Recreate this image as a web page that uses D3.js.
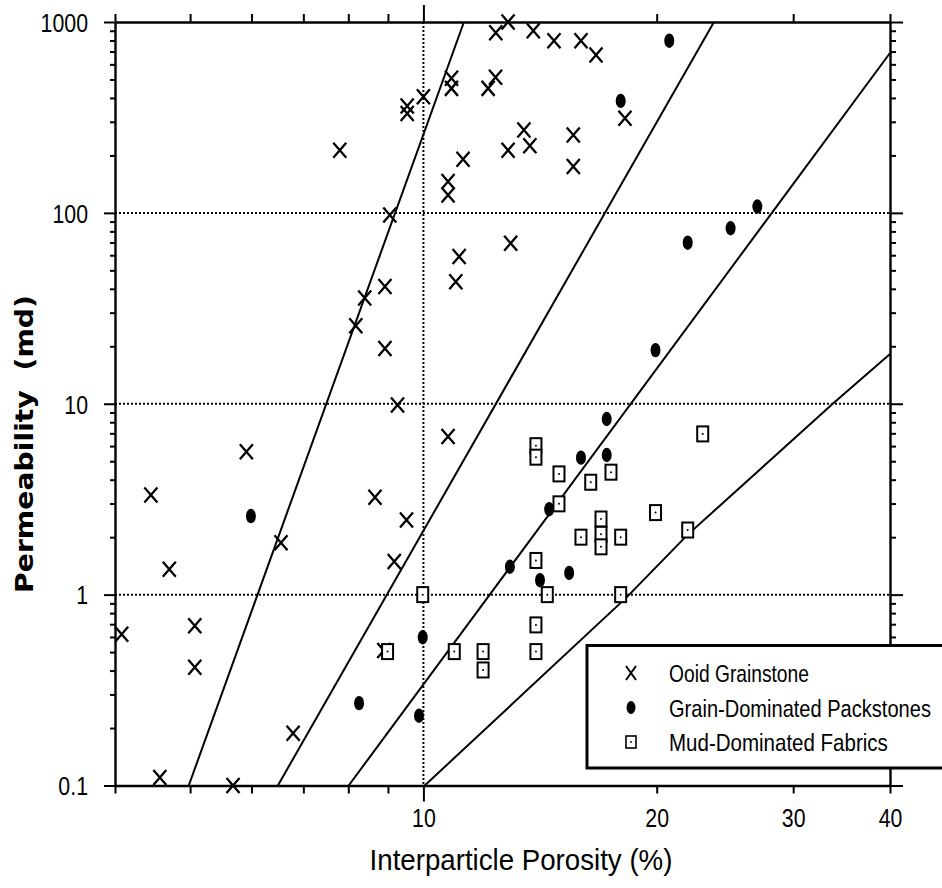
<!DOCTYPE html>
<html>
<head>
<meta charset="utf-8">
<script src="https://cdn.jsdelivr.net/npm/d3@7"></script>
<style>
body { margin: 0; background: #fff; }
text { font-family: "Liberation Sans", Arial, sans-serif; fill: #000; }
</style>
</head>
<body>
<svg id="chart" width="942" height="888"></svg>
<script>
// interparticle porosity (%) and permeability (md)

var ooidPor  = [4.08, 4.45, 4.70, 5.07, 5.07, 4.57, 5.68, 5.91, 6.55, 6.79, 7.80, 9.53, 9.53, 10.0,
                10.87, 10.87, 12.39, 12.12, 12.86, 12.40, 13.86, 14.74, 15.97, 16.70, 18.20, 13.48,
                13.72, 12.86, 15.61, 15.61, 11.25, 10.76, 10.76, 9.05, 12.96, 11.12, 11.01, 8.92,
                8.40, 8.18, 8.92, 9.26, 10.76, 8.66, 9.51, 9.17, 8.89];
var ooidPerm = [0.62, 3.33, 1.36, 0.686, 0.417, 0.110, 0.1, 5.61, 1.87, 0.188, 213, 363, 332, 406,
                507, 449, 513, 449, 1000, 879, 900, 798, 798, 672, 313, 272,
                225, 213, 256, 175, 191, 146, 124, 97.5, 69.3, 59.0, 43.6, 41.1,
                35.8, 25.6, 19.5, 9.86, 6.73, 3.24, 2.46, 1.49, 0.51];

var grainPor  = [20.76, 17.97, 26.97, 24.91, 21.93, 19.93, 17.24, 15.97, 17.24, 14.53, 12.93,
                 14.14, 15.42, 9.98, 8.26, 9.87, 5.99];
var grainPerm = [798, 386, 108, 83.1, 69.8, 19.1, 8.32, 5.22, 5.39, 2.80, 1.40,
                 1.19, 1.30, 0.598, 0.270, 0.232, 2.58];

var mudPor  = [13.97, 13.97, 14.96, 16.44, 17.46, 14.96, 16.95, 15.97, 16.95, 16.95, 17.97, 13.97,
               9.98, 14.45, 17.97, 22.93, 19.93, 21.93, 13.97, 13.97, 8.99, 10.96, 11.94, 11.94];
var mudPerm = [6.03, 5.25, 4.29, 3.88, 4.38, 2.99, 2.49, 2.00, 2.07, 1.78, 2.00, 1.51,
               1.0, 1.0, 1.0, 6.95, 2.69, 2.18, 0.694, 0.503, 0.503, 0.503, 0.503, 0.403];

// class boundary lines
var boundPor  = [[4.98, 11.28], [6.49, 23.71], [8.01, 40], [10.04, 18.3, 21.9, 33.8, 40]];
var boundPerm = [[0.1, 1000], [0.1, 1000], [0.1, 688], [0.1, 0.97, 2.05, 10.06, 18.2]];

var gridPerm = [1, 10, 100];
var gridPor  = [10];
var xTickLabels = [10, 20, 30, 40];
var yTickLabels = [0.1, 1, 10, 100, 1000];

var legendNames = ["Ooid Grainstone", "Grain-Dominated Packstones", "Mud-Dominated Fabrics"];

var narrow = 0.82;   // the original uses a condensed face

var svg = d3.select("#chart");

var x = d3.scaleLog().domain([4, 40]).range([115, 890]);
var y = d3.scaleLog().domain([0.1, 1000]).range([785.5, 22]);

function near(a, b) { return Math.abs(a - b) / b < 1e-6; }
function isDecade(d) { var l = Math.log10(d); return Math.abs(l - Math.round(l)) < 1e-6; }
function inList(list, d) { return list.some(function(v) { return near(d, v); }); }

// dotted grid
svg.selectAll(".hgrid").data(gridPerm).enter().append("line")
    .attr("x1", x(4)).attr("x2", x(40))
    .attr("y1", function(d) { return y(d); })
    .attr("y2", function(d) { return y(d); })
    .attr("stroke", "#000").attr("stroke-width", 2)
    .attr("stroke-dasharray", "2,2");

svg.selectAll(".vgrid").data(gridPor).enter().append("line")
    .attr("x1", function(d) { return x(d); })
    .attr("x2", function(d) { return x(d); })
    .attr("y1", y(1000)).attr("y2", y(0.1))
    .attr("stroke", "#000").attr("stroke-width", 2)
    .attr("stroke-dasharray", "2,2");

// boundary lines
var line = d3.line()
    .x(function(d) { return x(d[0]); })
    .y(function(d) { return y(d[1]); });

svg.selectAll(".bound").data(boundPor).enter().append("path")
    .attr("d", function(p, i) { return line(p.map(function(v, j) { return [v, boundPerm[i][j]]; })); })
    .attr("fill", "none").attr("stroke", "#000").attr("stroke-width", 2);

// markers
var ooid = ooidPor.map(function(v, i) { return [v, ooidPerm[i]]; });
var grain = grainPor.map(function(v, i) { return [v, grainPerm[i]]; });
var mud = mudPor.map(function(v, i) { return [v, mudPerm[i]]; });

svg.selectAll(".ooid").data(ooid).enter().append("path")
    .attr("transform", function(d) { return "translate(" + x(d[0]) + "," + y(d[1]) + ")"; })
    .attr("d", "M-6.5,-7.5L6.5,7.5M-6.5,7.5L6.5,-7.5")
    .attr("stroke", "#000").attr("stroke-width", 2.3).attr("fill", "none");

svg.selectAll(".grain").data(grain).enter().append("ellipse")
    .attr("cx", function(d) { return x(d[0]); })
    .attr("cy", function(d) { return y(d[1]); })
    .attr("rx", 5).attr("ry", 7.2)
    .attr("fill", "#000");

var mudG = svg.selectAll(".mud").data(mud).enter().append("g")
    .attr("transform", function(d) { return "translate(" + x(d[0]) + "," + y(d[1]) + ")"; });
mudG.append("rect")
    .attr("x", -5.5).attr("y", -7.5).attr("width", 11).attr("height", 15)
    .attr("fill", "#fff").attr("stroke", "#000").attr("stroke-width", 2);
mudG.append("circle").attr("r", 1).attr("fill", "#000");

// axes
var yTicks = y.ticks();
var xTicks = x.ticks();

function fmtY(d) { return inList(yTickLabels, d) ? d3.format("~g")(d) : ""; }
function fmtX(d) { return inList(xTickLabels, d) ? d3.format("~g")(d) : ""; }

var axL = svg.append("g").attr("transform", "translate(" + x(4) + ",0)")
    .call(d3.axisLeft(y).tickValues(yTicks).tickSize(5).tickSizeOuter(0).tickFormat(fmtY));
axL.selectAll(".tick line").attr("x2", function(d) { return isDecade(d) ? -11 : -5; });
axL.selectAll(".tick text")
    .attr("x", -27 / narrow).attr("dy", "0.36em")
    .attr("transform", "scale(" + narrow + ",1)")
    .style("font-size", "26px");

var axR = svg.append("g").attr("transform", "translate(" + x(40) + ",0)")
    .call(d3.axisRight(y).tickValues(yTicks).tickSize(6).tickSizeOuter(0).tickFormat(""));
axR.selectAll(".tick line").attr("x2", function(d) { return isDecade(d) ? 13 : 6; });

var axB = svg.append("g").attr("transform", "translate(0," + y(0.1) + ")")
    .call(d3.axisBottom(x).tickValues(xTicks).tickSize(8).tickSizeOuter(0).tickFormat(fmtX));
axB.selectAll(".tick line").attr("y2", function(d) { return near(d, 10) ? 16 : 8; });
axB.selectAll(".tick text")
    .attr("y", 41.5).attr("dy", 0)
    .attr("transform", "scale(" + narrow + ",1)")
    .style("font-size", "26px");

var axT = svg.append("g").attr("transform", "translate(0," + y(1000) + ")")
    .call(d3.axisTop(x).tickValues(xTicks).tickSize(8).tickSizeOuter(0).tickFormat(""));
axT.selectAll(".tick line").attr("y2", function(d) { return near(d, 10) ? -17 : -8; });

svg.selectAll(".domain").attr("stroke-width", 2.4);
svg.selectAll(".tick line").attr("stroke-width", 2);

// squeeze a text horizontally to a given width
function fit(sel, place, width) {
    sel.each(function(d, i) {
        var sx = width(d, i) / this.getComputedTextLength();
        d3.select(this).attr("transform", place(d, i) + " scale(" + sx + ",1)");
    });
}

// axis titles
var xTitle = svg.append("text")
    .attr("text-anchor", "middle")
    .style("font-size", "29px")
    .text("Interparticle Porosity (%)");
fit(xTitle, function() { return "translate(521,870)"; }, function() { return 303; });

var yTitle = svg.append("text")
    .attr("text-anchor", "middle")
    .style("font-family", "'DejaVu Sans', sans-serif")
    .style("font-weight", "bold").style("font-size", "24px")
    .style("white-space", "pre")
    .text("Permeability  (md)");
fit(yTitle, function() { return "translate(33,444) rotate(-90)"; }, function() { return 298; });

// legend: open on the right, the box runs to the page edge
var leg = svg.append("g");
leg.append("rect")
    .attr("x", 587).attr("y", 645.5).attr("width", 355).attr("height", 122.5)
    .attr("fill", "#fff");
leg.append("path")
    .attr("d", "M942,645.5H587V768H942")
    .attr("fill", "none").attr("stroke", "#000").attr("stroke-width", 3);

var legRow = [673, 707.5, 742];
var legLen = [140, 262, 219];

leg.append("path")
    .attr("transform", "translate(631," + legRow[0] + ")")
    .attr("d", "M-5,-7L5,7M-5,7L5,-7")
    .attr("stroke", "#000").attr("stroke-width", 2).attr("fill", "none");
leg.append("ellipse")
    .attr("cx", 631).attr("cy", legRow[1]).attr("rx", 4.5).attr("ry", 6.5)
    .attr("fill", "#000");
leg.append("rect")
    .attr("x", 626).attr("y", legRow[2] - 6).attr("width", 10).attr("height", 12)
    .attr("fill", "#fff").attr("stroke", "#000").attr("stroke-width", 1.6);
leg.append("circle").attr("cx", 631).attr("cy", legRow[2]).attr("r", 0.9).attr("fill", "#000");

var legText = leg.selectAll(".ltext").data(legendNames).enter().append("text")
    .style("font-size", "24px")
    .text(function(d) { return d; });
fit(legText,
    function(d, i) { return "translate(669," + (legRow[i] + 9) + ")"; },
    function(d, i) { return legLen[i]; });
</script>
</body>
</html>
